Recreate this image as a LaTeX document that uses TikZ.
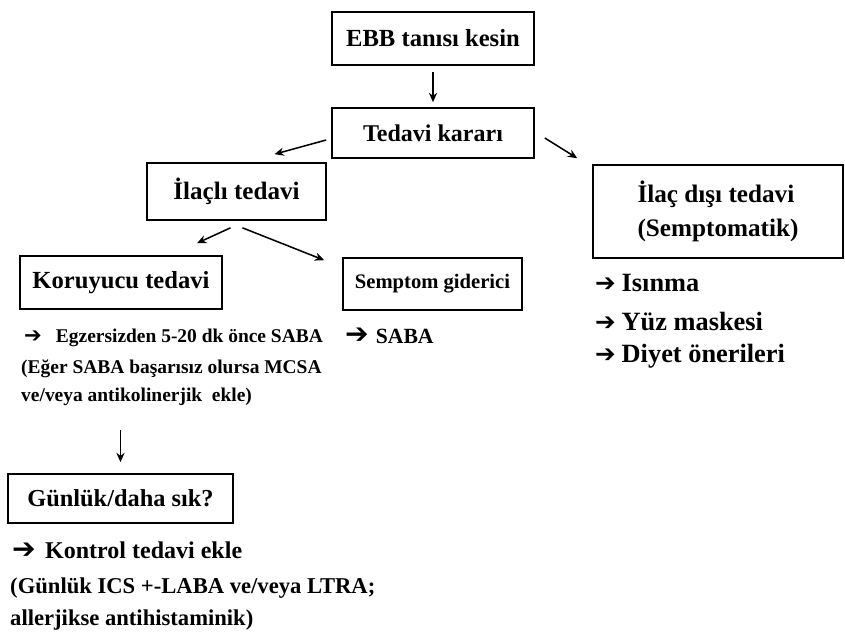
\documentclass[tikz,border=0pt]{standalone}
\usepackage{fontspec}
\setmainfont{Liberation Serif}
\newfontfamily\symfont{DejaVu Sans}
\usetikzlibrary{arrows.meta}

\newcommand{\fs}[1]{\bfseries\fontsize{#1}{#1}\selectfont}
\newcommand{\bul}[1]{{\fontsize{#1}{#1}\selectfont\symfont\char"2794}}

\tikzset{
    box/.style={draw, line width=1.4pt, inner sep=0pt},
    txt/.style={anchor=base west, inner sep=0pt},
    con/.style={-{Stealth[length=8pt,width=7pt]}, line width=1.3pt},
}

\begin{document}
\begin{tikzpicture}[x=0.03cm, y=-0.03cm]
    \useasboundingbox (0,0) rectangle (845,637);

    % Boxes
    \node[box, minimum width=6.06cm, minimum height=1.59cm, font=\fs{21}] (ebb) at (433,38.5) {EBB tanısı kesin};
    \node[box, minimum width=6.06cm, minimum height=1.5cm, font=\fs{20.5}] (karar) at (433,133) {Tedavi kararı};
    \node[box, minimum width=5.37cm, minimum height=1.71cm, font=\fs{21.4}] (ilacli) at (236.5,191.5) {İlaçlı tedavi};
    \node[box, minimum width=7.5cm, minimum height=2.79cm, align=left, font=\bfseries\fontsize{21.5}{29}\selectfont] (disi) at (718,211.5) {İlaç dışı tedavi\\(Semptomatik)};
    \node[box, minimum width=6.06cm, minimum height=1.59cm, font=\fs{21}] (koruyucu) at (121,282.5) {Koruyucu tedavi};
    \node[box, minimum width=5.37cm, minimum height=1.56cm, font=\fs{17.6}] (semptom) at (432.5,284) {Semptom giderici};
    \node[box, minimum width=6.75cm, minimum height=1.47cm, font=\fs{20.8}] (gunluk) at (120.5,498.5) {Günlük/daha sık?};

    % Texts under the boxes
    \node[txt, font=\fs{16.6}] (egz1) at (24,342) {\bul{18}\hspace{12pt}Egzersizden 5-20 dk önce SABA};
    \node[txt, font=\fs{16.6}] (egz2) at (21,373) {(Eğer SABA başarısız olursa MCSA};
    \node[txt, font=\fs{16.6}] (egz3) at (21,401) {ve/veya antikolinerjik\ \ ekle)};

    \node[txt, font=\fs{18.5}] (saba) at (345,343) {\bul{24}\hspace{6pt}SABA};

    \node[txt, font=\fs{22.5}] (isinma) at (595,291) {\bul{21}\hspace{5pt}Isınma};
    \node[txt, font=\fs{22.5}] (maske) at (595,330) {\bul{21}\hspace{5pt}Yüz maskesi};
    \node[txt, font=\fs{22.5}] (diyet) at (595,362) {\bul{21}\hspace{5pt}Diyet önerileri};

    \node[txt, font=\fs{20.5}] (kontrol) at (12,558) {\bul{24}\hspace{8pt}Kontrol tedavi ekle};
    \node[txt, font=\fs{19.3}] (ics) at (10,593) {(Günlük ICS +-LABA ve/veya LTRA;};
    \node[txt, font=\fs{19.3}] (allerji) at (10,625) {allerjikse antihistaminik)};

    % Arrows
    \draw[con, shorten <=0.2cm, shorten >=0.15cm] (ebb.south) -- (karar.north);
    \draw[con] ([shift={(-5,7)}]karar.west) -- ([shift={(38,-8)}]ilacli.north);
    \draw[con] ([shift={(10,5)}]karar.east) -- ([shift={(-15,-6)}]disi.north west);
    \draw[con] ([shift={(-6,7)}]ilacli.south) -- ([shift={(76,-12)}]koruyucu.north);
    \draw[con] ([shift={(6,7)}]ilacli.south) -- ([shift={(-18,3)}]semptom.north west);
    \draw[con, shorten <=0.75cm, shorten >=0.33cm] (gunluk.north |- egz3.south) -- (gunluk.north);
\end{tikzpicture}
\end{document}
